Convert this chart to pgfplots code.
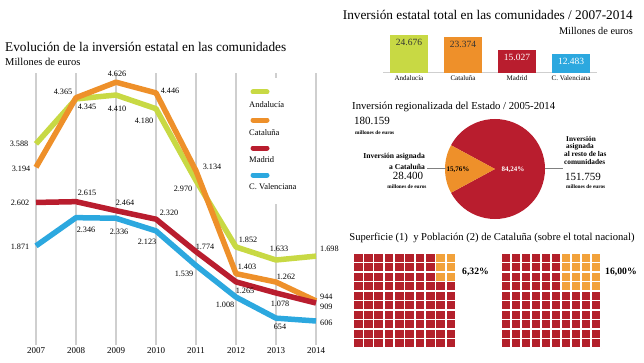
\documentclass[border=0pt]{standalone}
\usepackage{pgfplots}
\pgfplotsset{compat=1.18}
\usepackage{fontspec}
\setmainfont{Liberation Serif}
\definecolor{cand}{HTML}{C8D944}
\definecolor{ccat}{HTML}{EE902A}
\definecolor{cmad}{HTML}{B91D2E}
\definecolor{cval}{HTML}{2CA8DF}
\definecolor{wred}{HTML}{B3202B}
\definecolor{wora}{HTML}{F2A23B}
\definecolor{gridg}{HTML}{CFCFCF}
\newcommand{\fs}[1]{\fontsize{#1}{#1}\selectfont}
\begin{document}
\begin{tikzpicture}
\useasboundingbox (0pt,0pt) rectangle (644pt,362pt);
% ---------------- line chart ----------------
\begin{axis}[at={(20pt,17pt)}, anchor=south west, scale only axis, width=312pt, height=272pt,
  xmin=2006.6, xmax=2014.4, ymin=202, ymax=4781, clip=false,
  axis line style={draw=none}, major tick length=0pt, ytick=\empty,
  xtick={2007,2008,2009,2010,2011,2012,2013,2014},
  xticklabels={2007,2008,2009,2010,2011,2012,2013,2014},
  xticklabel style={font=\fs{9}, yshift=1pt},
  xmajorgrids, major grid style={gridg, line width=1.4pt},
  every axis plot/.append style={line width=5.5pt, line join=round}]
\addplot[cand] coordinates {(2007,3588)(2008,4345)(2009,4410)(2010,4180)(2011,2970)(2012,1852)(2013,1633)(2014,1698)};
\addplot[ccat] coordinates {(2007,3194)(2008,4365)(2009,4626)(2010,4446)(2011,3134)(2012,1403)(2013,1262)(2014,944)};
\addplot[cval] coordinates {(2007,1871)(2008,2346)(2009,2336)(2010,2123)(2011,1539)(2012,1008)(2013,654)(2014,606)};
\addplot[cmad] coordinates {(2007,2602)(2008,2615)(2009,2464)(2010,2320)(2011,1774)(2012,1265)(2013,1078)(2014,909)};
\end{axis}
\begin{scope}[x=1pt,y=1pt]
% legend
\fill[white] (241,158) rectangle (306,284);
\begin{scope}[line width=5pt, line cap=round]
\draw[cand] (253,270) -- (267,270);
\draw[ccat] (253,242) -- (267,242);
\draw[cmad] (253,214) -- (267,214);
\draw[cval] (253,187) -- (267,187);
\end{scope}
\begin{scope}[every node/.style={anchor=west, font=\fs{8.5}, inner sep=0pt}]
\node at (249,257) {Andalucía};
\node at (249,229) {Cataluña};
\node at (249,202) {Madrid};
\node at (249,175) {C. Valenciana};
\end{scope}
% data labels
\begin{scope}[every node/.style={font=\fs{8.2}, inner sep=0pt}]
\node at (19,218) {3.588};
\node at (87,255) {4.345};
\node at (117,253) {4.410};
\node at (144,241) {4.180};
\node at (183,173) {2.970};
\node at (248,122) {1.852};
\node at (279,113) {1.633};
\node[anchor=west] at (320,113) {1.698};
\node at (21,193) {3.194};
\node at (63,270) {4.365};
\node at (117,288) {4.626};
\node at (170,271) {4.446};
\node at (212,195) {3.134};
\node at (247,95) {1.403};
\node at (286,85) {1.262};
\node[anchor=west] at (320,65) {944};
\node at (20,159) {2.602};
\node at (87,169) {2.615};
\node at (125,159) {2.464};
\node at (169,149) {2.320};
\node at (205,115) {1.774};
\node at (245,71) {1.265};
\node at (280,58) {1.078};
\node[anchor=west] at (320,55) {909};
\node at (20,115) {1.871};
\node at (86,132) {2.346};
\node at (119,130) {2.336};
\node at (147,120) {2.123};
\node at (184,88) {1.539};
\node at (225,57) {1.008};
\node at (280,35) {654};
\node[anchor=west] at (320,39) {606};
\end{scope}
\node[anchor=west, inner sep=0pt, font=\fs{13.3}] at (5,315) {Evolución de la inversión estatal en las comunidades};
\node[anchor=west, inner sep=0pt, font=\fs{10.5}] at (5,300) {Millones de euros};
\node[anchor=east, inner sep=0pt, font=\fs{13.3}] at (633,347) {Inversión estatal total en las comunidades / 2007-2014};
\node[anchor=east, inner sep=0pt, font=\fs{10.3}] at (633,331) {Millones de euros};
\end{scope}
% ---------------- bar chart ----------------
\begin{axis}[at={(383pt,289pt)}, anchor=south west, scale only axis, width=214pt, height=40pt,
  xmin=-0.48, xmax=3.48, ymin=0, ymax=26000, clip=false,
  ybar, bar width=38pt, axis y line=none, axis x line*=bottom,
  x axis line style={gridg, line width=1pt, -},
  major tick length=0pt, xtick={0,1,2,3},
  xticklabels={Andalucía,Cataluña,Madrid,C. Valenciana},
  xticklabel style={font=\fs{7}, yshift=1pt}]
\addplot[fill=cand, draw=none, bar shift=0pt] coordinates {(0,24676)};
\addplot[fill=ccat, draw=none, bar shift=0pt] coordinates {(1,23374)};
\addplot[fill=cmad, draw=none, bar shift=0pt] coordinates {(2,15027)};
\addplot[fill=cval, draw=none, bar shift=0pt] coordinates {(3,12483)};
\node[font=\fs{9.5}, text=black!80, below=4pt, inner sep=0pt] at (axis cs:0,24676) {24.676};
\node[font=\fs{9.5}, text=black!80, below=4pt, inner sep=0pt] at (axis cs:1,23374) {23.374};
\node[font=\fs{9.5}, text=white, below=4pt, inner sep=0pt] at (axis cs:2,15027) {15.027};
\node[font=\fs{9.5}, text=white, below=4pt, inner sep=0pt] at (axis cs:3,12483) {12.483};
\end{axis}
% ---------------- pie ----------------
\pgfmathsetmacro{\half}{15.76*1.8}
\pgfmathsetmacro{\aa}{180-\half}
\pgfmathsetmacro{\ab}{180+\half}
\begin{axis}[at={(445pt,143pt)}, anchor=south west, scale only axis, width=100pt, height=100pt,
  xmin=-1, xmax=1, ymin=-1, ymax=1, hide axis, clip=false]
\fill[cmad] (axis cs:0,0) -- (axis cs:{cos(\ab)},{sin(\ab)}) arc[start angle=\ab, end angle=\aa+360, radius=50pt] -- cycle;
\fill[ccat] (axis cs:0,0) -- (axis cs:{cos(\aa)},{sin(\aa)}) arc[start angle=\aa, end angle=\ab, radius=50pt] -- cycle;
\node[font=\bfseries\fs{7}, inner sep=0pt] at (axis cs:-0.74,-0.02) {15,76\%};
\node[font=\bfseries\fs{7}, text=white, inner sep=0pt] at (axis cs:0.36,-0.02) {84,24\%};
\end{axis}
\begin{scope}[x=1pt,y=1pt]
\node[anchor=west, inner sep=0pt, font=\fs{10.7}] at (352,255) {Inversión regionalizada del Estado / 2005-2014};
\node[anchor=west, inner sep=0pt, font=\fs{11}] at (354,241) {180.159};
\node[anchor=west, inner sep=0pt, font=\bfseries\fs{5.3}] at (355,229) {millones de euros};
\node[anchor=east, inner sep=0pt, font=\bfseries\fs{7.6}] at (425,205) {Inversión asignada};
\node[anchor=east, inner sep=0pt, font=\bfseries\fs{7.6}] at (425,195) {a Cataluña};
\draw[gray, line width=0.6pt] (427,194) -- (446,194);
\node[inner sep=0pt, font=\fs{11}] at (408,186) {28.400};
\node[inner sep=0pt, font=\bfseries\fs{5.3}] at (407,175) {millones de euros};
\begin{scope}[every node/.style={anchor=west, inner sep=0pt, font=\bfseries\fs{7.3}}]
\node at (566,223) {Inversión};
\node at (566,215) {asignada};
\node at (564,208) {al resto de las};
\node at (564,200) {comunidades};
\end{scope}
\draw[gray, line width=0.6pt] (545,194) -- (563,194);
\node[anchor=west, inner sep=0pt, font=\fs{11}] at (565,185) {151.759};
\node[anchor=west, inner sep=0pt, font=\bfseries\fs{5.3}] at (566,175) {millones de euros};
\node[inner sep=0pt, font=\fs{10.6}] at (492,124) {Superficie (1)\ \ y Población (2) de Cataluña (sobre el total nacional)};
\node[anchor=west, inner sep=0pt, font=\bfseries\fs{9.7}] at (462,90) {6,32\%};
\node[anchor=west, inner sep=0pt, font=\bfseries\fs{9.7}] at (605,90) {16,00\%};
\end{scope}
% ---------------- waffles ----------------
\pgfplotsset{waffle/.style={anchor=south west, scale only axis, height=95pt,
  xmin=-0.5, xmax=9.5, ymin=0, ymax=10, ybar stacked, bar width=1,
  axis line style={draw=none}, major tick length=0pt,
  xtick={-0.5,0.5,...,9.5}, ytick={0,1,...,10}, xticklabels={}, yticklabels={},
  grid=major, major grid style={white, line width=1.6pt}, axis on top}}
\begin{axis}[waffle, at={(353pt,14pt)}, width=103pt]
\addplot[fill=wred, draw=none] coordinates {(0,10)(1,10)(2,10)(3,10)(4,10)(5,10)(6,10)(7,10)(8,7)(9,7)};
\addplot[fill=wora, draw=none] coordinates {(0,0)(1,0)(2,0)(3,0)(4,0)(5,0)(6,0)(7,0)(8,3)(9,3)};
\end{axis}
\begin{axis}[waffle, at={(501pt,14pt)}, width=100pt]
\addplot[fill=wred, draw=none] coordinates {(0,10)(1,10)(2,10)(3,10)(4,10)(5,10)(6,6)(7,6)(8,6)(9,6)};
\addplot[fill=wora, draw=none] coordinates {(0,0)(1,0)(2,0)(3,0)(4,0)(5,0)(6,4)(7,4)(8,4)(9,4)};
\end{axis}
\end{tikzpicture}
\end{document}
